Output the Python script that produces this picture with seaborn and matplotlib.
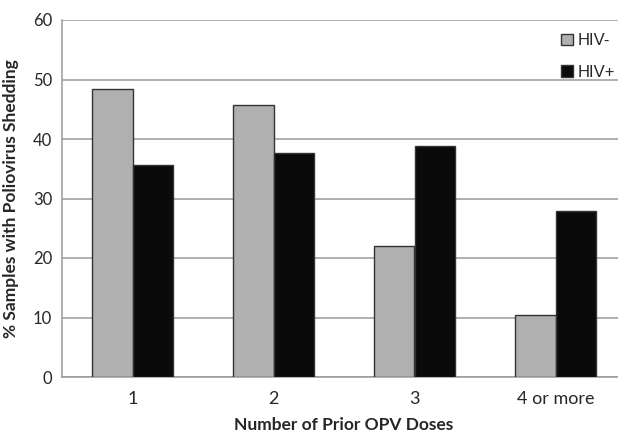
import numpy as np
import pandas as pd
import matplotlib
matplotlib.use("Agg")
import matplotlib.pyplot as plt
from matplotlib.patches import Patch
from matplotlib.ticker import FixedLocator
import seaborn as sns

doses = ["1", "2", "3", "4 or more"]
hiv_neg = [48.4, 45.7, 22.1, 10.5]
hiv_pos = [35.6, 37.6, 38.9, 27.9]
groups = ["HIV-", "HIV+"]
colors = ["#b0b0b0", "#0a0a0a"]

df = pd.DataFrame({
    "dose": doses * 2,
    "group": [groups[0]] * len(doses) + [groups[1]] * len(doses),
    "pct": hiv_neg + hiv_pos,
})

sns.set_style("white")
plt.rcParams["font.family"] = ["Lato", "DejaVu Sans"]

fig = plt.figure(figsize=(6.18, 4.32), dpi=100)
ax = fig.add_axes([62 / 618, 55 / 432, 564 / 618, 357 / 432])

sns.barplot(data=df, x="dose", y="pct", hue="group", palette=colors,
            width=0.57, gap=0, edgecolor="#333333", linewidth=1,
            legend=False, ax=ax, zorder=3)

ax.set_xlim(-0.5, 3.5)
ax.set_ylim(0, 60)
ax.set_yticks(np.arange(0, 61, 10))
ax.yaxis.grid(True, color="#9a9a9a", linewidth=1.1, zorder=0)
ax.set_axisbelow(True)

for s in ["top", "right"]:
    ax.spines[s].set_visible(False)
for s in ["left", "bottom"]:
    ax.spines[s].set_color("#9a9a9a")
    ax.spines[s].set_linewidth(1.1)

ax.tick_params(axis="y", length=4, width=1, color="#9a9a9a", labelsize=12, pad=3)
ax.tick_params(axis="x", which="major", length=0, labelsize=13, pad=10)
ax.xaxis.set_minor_locator(FixedLocator([-0.5, 0.5, 1.5, 2.5]))
ax.tick_params(axis="x", which="minor", length=4, width=1, color="#9a9a9a")

ax.set_xlabel("Number of Prior OPV Doses", fontsize=12.5, fontweight="bold", labelpad=7)
ax.set_ylabel("% Samples with Poliovirus Shedding", fontsize=12.5, fontweight="bold", labelpad=10)

handles = [Patch(facecolor=c, edgecolor="#333333", linewidth=1) for c in colors]
leg = fig.legend(handles, groups, loc="upper left", bbox_to_anchor=(553 / 618, 1 - 25 / 432),
                 frameon=False, borderpad=0, handlelength=0.7, handleheight=0.7,
                 handletextpad=0.3, labelspacing=1.0,
                 prop={"family": "Liberation Sans", "size": 12})

fig.savefig("out.png", dpi=100)
